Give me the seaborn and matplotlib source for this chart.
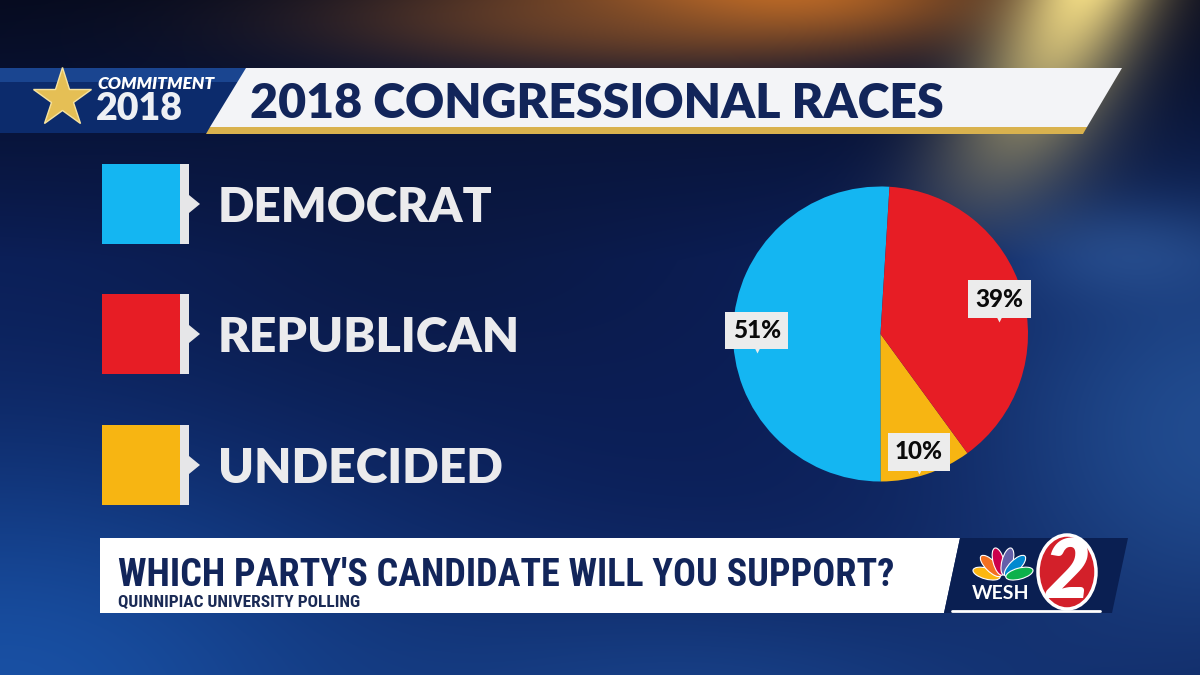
import numpy as np
import matplotlib
matplotlib.use('Agg')
import matplotlib.pyplot as plt
import seaborn as sns
from matplotlib import font_manager
from matplotlib.patches import Polygon, Rectangle, Ellipse

# ---------------- data ----------------
categories = ['DEMOCRAT', 'REPUBLICAN', 'UNDECIDED']
values = [51, 39, 10]
colors_hex = ['#14b6f2', '#e71d25', '#f7b512']
title = '2018 CONGRESSIONAL RACES'
question = "WHICH PARTY'S CANDIDATE WILL YOU SUPPORT?"
source = 'QUINNIPIAC UNIVERSITY POLLING'
brand_top = 'COMMITMENT'
brand_year = '2018'
station = 'WESH'
channel = '2'

# ---------------- style ----------------
sns.set_theme(style='dark')
names = {f.name for f in font_manager.fontManager.ttflist}


def pick(*cands):
    for n in cands:
        if n in names:
            return n
    return 'DejaVu Sans'


BOLD = pick('Lato', 'Roboto', 'Open Sans')
NARROW = pick('Liberation Sans Narrow', 'Roboto Condensed', 'Open Sans Condensed',
              'DejaVu Sans Condensed', 'Roboto')
plt.rcParams['font.family'] = [BOLD, 'DejaVu Sans']
palette = sns.color_palette(colors_hex)

W, H = 1200, 675
fig = plt.figure(figsize=(12, 6.75), dpi=100)

# ---------------- background ----------------
bg = fig.add_axes([0, 0, 1, 1])
bg.set_xlim(0, W)
bg.set_ylim(H, 0)
bg.axis('off')

yy, xx = np.mgrid[0:H, 0:W].astype(float)


def hexrgb(h):
    h = h.lstrip('#')
    return np.array([int(h[i:i + 2], 16) / 255 for i in (0, 2, 4)])


img = np.zeros((H, W, 3)) + hexrgb('#0b1d55')


def blend(img, col, w):
    w = np.clip(w, 0, 1)[..., None]
    return img * (1 - w) + hexrgb(col) * w


img = blend(img, '#1a56ad', np.exp(-((xx - 0) / 420) ** 2 - ((yy - 700) / 260) ** 2) * 0.9)
img = blend(img, '#1d4f9c', np.exp(-((xx - 700) / 380) ** 2 - ((yy - 720) / 140) ** 2) * 0.7)
img = blend(img, '#2a5fa8', np.exp(-((xx - 1220) / 260) ** 2 - ((yy - 430) / 230) ** 2) * 0.7)
img = blend(img, '#05091a', np.clip(1 - yy / 260, 0, 1) * 0.9)
img = blend(img, '#0a1536', np.exp(-((xx - 420) / 260) ** 2 - ((yy - 230) / 160) ** 2) * 0.5)
img = blend(img, '#d77726', np.exp(-((xx - 760) / 240) ** 2 - ((yy + 10) / 60) ** 2) * 0.95)
img = blend(img, '#7a4a2a', np.exp(-((xx - 560) / 260) ** 2 - ((yy - 20) / 50) ** 2) * 0.6)
cone = np.exp(-((xx - (1080 - 0.45 * yy)) / (70 + 0.1 * yy)) ** 2) * np.clip(1 - yy / 260, 0, 1)
img = blend(img, '#f3dd86', cone * 0.95)
img = blend(img, '#3d6db0', np.exp(-((xx - 1120) / 120) ** 2 - ((yy - 250) / 50) ** 2) * 0.4)
bg.imshow(img, extent=[0, W, H, 0], aspect='auto', zorder=0)

# ---------------- title banner ----------------
bg.add_patch(Polygon([(0, 68), (252, 68), (214, 133), (0, 133)], closed=True,
                     fc='#0c2b6c', ec='none', zorder=2))
bg.add_patch(Polygon([(0, 68), (252, 68), (244, 82), (0, 82)], closed=True,
                     fc='#1a4590', ec='none', zorder=2))
bg.add_patch(Polygon([(246, 68), (1122, 68), (1087, 127), (210, 127)], closed=True,
                     fc='#f3f4f7', ec='none', zorder=3))
bg.add_patch(Polygon([(210, 127), (1087, 127), (1083, 134), (206, 134)], closed=True,
                     fc='#d9b24e', ec='none', zorder=3))
bg.plot([62], [98], marker='*', markersize=44, color='#e5bf55', mec='#f7e3a0',
        mew=1, zorder=4)
bg.text(97, 89, brand_top, color='white', fontsize=12.5, fontweight='heavy',
        style='italic', ha='left', va='baseline', zorder=5)
bg.text(96, 120, brand_year, color='#eef0f4', fontsize=27, fontweight='heavy',
        ha='left', va='baseline', zorder=5)
t_title = bg.text(250, 118, title, color='#12255a', fontsize=34, fontweight='heavy',
                  ha='left', va='baseline', zorder=5)

# ---------------- legend ----------------
row_tops = [164, 294, 425]
leg_texts = []
for cat, col, top in zip(categories, palette, row_tops):
    bg.add_patch(Rectangle((102, top), 78, 80, fc=col, ec='none', zorder=3))
    bg.add_patch(Rectangle((180, top), 9, 80, fc='#e6e6e8', ec='none', zorder=3))
    bg.add_patch(Polygon([(189, top + 31), (200, top + 40), (189, top + 49)],
                         closed=True, fc='#e6e6e8', ec='none', zorder=3))
    leg_texts.append(bg.text(218, top + 58, cat, color='#ebebed', fontsize=35,
                             fontweight='heavy', ha='left', va='baseline', zorder=4))

# ---------------- bottom bar ----------------
bg.add_patch(Polygon([(100, 538), (960, 538), (944, 613), (100, 613)], closed=True,
                     fc='white', ec='none', zorder=3))
bg.add_patch(Polygon([(960, 538), (1128, 538), (1112, 613), (944, 613)], closed=True,
                     fc='#0a1f52', ec='none', zorder=3))
bg.plot([952, 1100], [611, 611], color='white', lw=2, zorder=4)
t_q = bg.text(118, 586, question, color='#12255a', fontsize=29, fontweight='bold',
              family=[NARROW, 'DejaVu Sans'], ha='left', va='baseline', zorder=5)
t_s = bg.text(118, 607, source, color='#1a2a55', fontsize=10, fontweight='bold',
              family=[NARROW, 'DejaVu Sans'], ha='left', va='baseline', zorder=5)

# WESH logo
feather_cols = ['#fcb711', '#f37021', '#cc004c', '#6460aa', '#0089d0', '#0db14b']
cx, cy = 1003, 578
for i, fc_ in enumerate(feather_cols):
    ang = np.deg2rad(-75 + i * 30)
    ex = cx + 17 * np.sin(ang)
    ey = cy - 17 * np.cos(ang)
    bg.add_patch(Ellipse((ex, ey), 11, 28, angle=np.rad2deg(ang), fc=fc_,
                         ec='white', lw=0.8, zorder=5))
bg.add_patch(Ellipse((1067, 572), 58, 74, fc='#d3202a', ec='white', lw=2.5, zorder=5))
bg.text(1066, 575, channel, color='white', fontsize=58, fontweight='heavy',
        style='italic', ha='center', va='center', zorder=6)
bg.text(972, 599, station, color='white', fontsize=14, fontweight='bold',
        ha='left', va='baseline', zorder=7)

# ---------------- pie ----------------
pcx, pcy, R = 880.5, 334.0, 147.5
lim = 1.3
side = 2 * lim * R
ax = fig.add_axes([(pcx - side / 2) / W, (H - pcy - side / 2) / H, side / W, side / H])
order = [0, 2, 1]
wedges, texts, autotexts = ax.pie(
    [values[i] for i in order],
    colors=[palette[i] for i in order],
    startangle=86.5, counterclock=True,
    autopct=lambda p: f'{p:.0f}%', pctdistance=0.84,
    wedgeprops=dict(linewidth=0),
    textprops=dict(color='#0a0a0a', fontsize=17.5, fontweight='black'))
ax.set_xlim(-lim, lim)
ax.set_ylim(-lim, lim)
ax.set_aspect('equal')
ax.axis('off')
ax.patch.set_alpha(0)
for at in autotexts:
    at.set_bbox(dict(boxstyle='square,pad=0.3', fc='#ececec', ec='none'))
    x, y = at.get_position()
    ax.plot([x], [y - 0.118], marker='v', markersize=7, color='#ececec',
            mec='none', clip_on=False, zorder=1)

# ---------------- fit text widths ----------------
fig.canvas.draw()
r = fig.canvas.get_renderer()
targets = [(t_title, 695), (t_q, 775), (t_s, 242)]
targets += list(zip(leg_texts, [275, 302, 285]))
for t, target in targets:
    w = t.get_window_extent(renderer=r).width
    t.set_fontsize(t.get_fontsize() * target / w)

fig.savefig('out.png', dpi=100)
